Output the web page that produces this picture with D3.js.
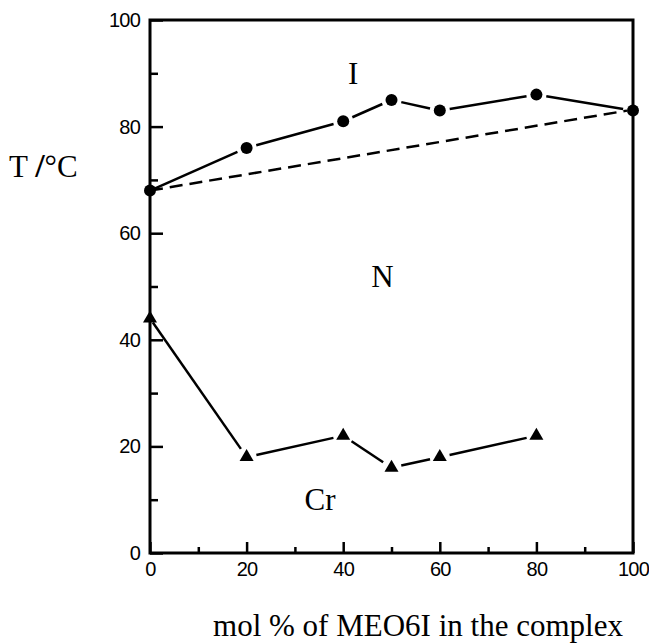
<!DOCTYPE html>
<html>
<head>
<meta charset="utf-8">
<script src="https://cdn.jsdelivr.net/npm/d3@7"></script>
<style>
body { margin: 0; background: #fff; }
</style>
</head>
<body>
<script>
// clearing temperatures (circles) and melting temperatures (triangles)
var clearX = [0, 20, 40, 50, 60, 80, 100];
var clearT = [68, 76, 81, 85, 83, 86, 83];
var meltX = [0, 20, 40, 50, 60, 80];
var meltT = [44, 18, 22, 16, 18, 22];
// ideal mixing line
var idealX = [0, 100];
var idealT = [68, 83];
var majorTicks = [0, 20, 40, 60, 80, 100];
var minorTicks = [10, 30, 50, 70, 90];
var phaseNames = ["I", "N", "Cr"];
var phaseX = [41, 45.8, 32];
var phaseY = [88, 50, 8];

var width = 649,
    height = 644;
var svg = d3.select("body").append("svg").attr("width", width).attr("height", height);

var x = d3.scaleLinear().domain([0, 100]).range([150, 633]);
var y = d3.scaleLinear().domain([0, 100]).range([553, 20]);

// frame
svg.append("rect")
    .attr("x", x(0)).attr("y", y(100))
    .attr("width", x(100) - x(0)).attr("height", y(0) - y(100))
    .attr("fill", "none").attr("stroke", "#000").attr("stroke-width", 3);

// ticks
function styleAxis(g) {
    g.select(".domain").remove();
    g.selectAll("line").attr("stroke", "#000").attr("stroke-width", 2.5);
    g.selectAll("text")
        .attr("font-family", "Liberation Sans, Arial, sans-serif")
        .attr("font-size", 20)
        .attr("letter-spacing", -0.8)
        .attr("fill", "#000");
}
svg.append("g").attr("transform", "translate(" + x(0) + ",0)")
    .call(d3.axisLeft(y).tickValues(majorTicks).tickSizeInner(-13).tickSizeOuter(0).tickPadding(10))
    .call(styleAxis);
svg.append("g").attr("transform", "translate(" + x(0) + ",0)")
    .call(d3.axisLeft(y).tickValues(minorTicks).tickSizeInner(-8).tickSizeOuter(0).tickFormat(""))
    .call(styleAxis);
svg.append("g").attr("transform", "translate(0," + y(0) + ")")
    .call(d3.axisBottom(x).tickValues(majorTicks).tickSizeInner(-11).tickSizeOuter(0).tickPadding(9))
    .call(styleAxis);
svg.append("g").attr("transform", "translate(0," + y(0) + ")")
    .call(d3.axisBottom(x).tickValues(minorTicks).tickSizeInner(-6).tickSizeOuter(0).tickFormat(""))
    .call(styleAxis);

// segments with small gaps before the markers
function segments(xs, ys, gap) {
    var segs = [];
    for (var i = 0; i < xs.length - 1; i++) {
        var x1 = x(xs[i]), y1 = y(ys[i]), x2 = x(xs[i + 1]), y2 = y(ys[i + 1]);
        var len = Math.hypot(x2 - x1, y2 - y1);
        var ux = (x2 - x1) / len, uy = (y2 - y1) / len;
        var g1 = i == 0 ? 5 : gap;
        segs.push({x1: x1 + ux * g1, y1: y1 + uy * g1, x2: x2 - ux * gap, y2: y2 - uy * gap});
    }
    return segs;
}

svg.append("line")
    .attr("x1", x(idealX[0])).attr("y1", y(idealT[0]))
    .attr("x2", x(idealX[1]) - 6).attr("y2", y(idealT[1]))
    .attr("stroke", "#000").attr("stroke-width", 2.5)
    .attr("stroke-dasharray", "13,7");

svg.selectAll("line.clear").data(segments(clearX, clearT, 10)).enter().append("line")
    .attr("class", "clear")
    .attr("x1", d => d.x1).attr("y1", d => d.y1)
    .attr("x2", d => d.x2).attr("y2", d => d.y2)
    .attr("stroke", "#000").attr("stroke-width", 2.5);

svg.selectAll("line.melt").data(segments(meltX, meltT, 10)).enter().append("line")
    .attr("class", "melt")
    .attr("x1", d => d.x1).attr("y1", d => d.y1)
    .attr("x2", d => d.x2).attr("y2", d => d.y2)
    .attr("stroke", "#000").attr("stroke-width", 2.5);

svg.selectAll("circle").data(clearX).enter().append("circle")
    .attr("cx", d => x(d))
    .attr("cy", (d, i) => y(clearT[i]))
    .attr("r", 6)
    .attr("fill", "#000");

svg.selectAll("path.tri").data(meltX).enter().append("path")
    .attr("class", "tri")
    .attr("d", d3.symbol().type(d3.symbolTriangle).size(85))
    .attr("transform", (d, i) => "translate(" + x(d) + "," + y(meltT[i]) + ")")
    .attr("fill", "#000");

// phase labels
var serif = "Liberation Serif, Times New Roman, serif";
svg.selectAll("text.phase").data(phaseNames).enter().append("text")
    .attr("class", "phase")
    .attr("x", (d, i) => x(phaseX[i]))
    .attr("y", (d, i) => y(phaseY[i]))
    .attr("font-family", serif)
    .attr("font-size", 31)
    .text(d => d);

// axis titles
var yt = svg.append("text")
    .attr("x", 9).attr("y", 177)
    .attr("font-family", serif).attr("font-size", 31);
yt.append("tspan").text("T ");
yt.append("tspan").attr("font-weight", "bold").attr("font-size", 34).text("/");
yt.append("tspan").text("°C");

svg.append("text")
    .attr("x", 213).attr("y", 636)
    .attr("font-family", serif).attr("font-size", 31)
    .attr("textLength", 410)
    .text("mol % of MEO6I in the complex");
</script>
</body>
</html>
